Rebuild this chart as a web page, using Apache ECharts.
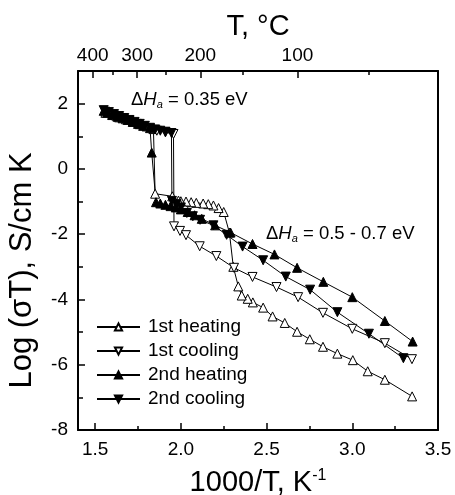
<!DOCTYPE html>
<html>
<head>
<meta charset="utf-8">
<script src="https://cdn.jsdelivr.net/npm/echarts@6/dist/echarts.min.js"></script>
<style>
  html, body { margin: 0; padding: 0; background: #fff; }
  #chart { width: 455px; height: 495px; }
</style>
</head>
<body>
<div id="chart"></div>
<script>
const heating1 = [
  [3.349, -6.97], [3.19, -6.46], [3.09, -6.2], [3.003, -5.86], [2.913, -5.66],
  [2.829, -5.45], [2.752, -5.22], [2.678, -4.99], [2.606, -4.72], [2.535, -4.52],
  [2.48, -4.25], [2.42, -4.09], [2.39, -3.98], [2.355, -3.88], [2.335, -3.6],
  [2.306, -3.0], [2.283, -1.95], [2.25, -1.32], [2.22, -1.2], [2.19, -1.12],
  [2.16, -1.08], [2.13, -1.06], [2.09, -1.04], [2.06, -1.02], [2.03, -1.0],
  [2.0, -0.99], [1.986, -0.97], [1.95, -0.84], [1.85, -0.76], [1.84, 1.22],
  [1.8, 1.3], [1.76, 1.37], [1.72, 1.45], [1.68, 1.52], [1.64, 1.58],
  [1.6, 1.65], [1.56, 1.72]
]
const cooling1 = [
  [1.56, 1.75], [1.6, 1.62], [1.66, 1.55], [1.7, 1.47], [1.744, 1.38],
  [1.78, 1.3], [1.821, 1.23], [1.86, 1.17], [1.91, 1.12], [1.957, 1.07],
  [1.96, -1.76], [1.995, -1.9], [2.03, -2.03], [2.11, -2.37], [2.207, -2.67],
  [2.31, -3.03], [2.418, -3.31], [2.558, -3.62], [2.684, -3.93], [2.829, -4.41],
  [3.0, -4.9], [3.19, -5.34], [3.348, -5.83]
]
const heating2 = [
  [3.352, -5.29], [3.19, -4.66], [3.0, -3.93], [2.831, -3.46], [2.678, -3.03],
  [2.546, -2.62], [2.418, -2.3], [2.29, -1.95], [2.2, -1.73], [2.122, -1.53],
  [2.08, -1.42], [2.04, -1.32], [2.0, -1.24], [1.97, -1.18], [1.94, -1.14],
  [1.91, -1.1], [1.88, -1.06], [1.855, -1.02], [1.83, 0.5], [1.82, 1.25],
  [1.78, 1.32], [1.75, 1.38], [1.72, 1.44], [1.69, 1.5], [1.66, 1.55],
  [1.63, 1.6], [1.6, 1.66], [1.57, 1.72], [1.55, 1.78]
]
const cooling2 = [
  [1.55, 1.8], [1.58, 1.74], [1.61, 1.68], [1.64, 1.62], [1.67, 1.56],
  [1.7, 1.5], [1.73, 1.44], [1.76, 1.38], [1.79, 1.32], [1.82, 1.26],
  [1.85, 1.21], [1.88, 1.17], [1.91, 1.14], [1.945, 1.1], [1.948, -0.98],
  [1.975, -1.08], [2.0, -1.18], [2.035, -1.35], [2.07, -1.45], [2.112, -1.56],
  [2.19, -1.73], [2.267, -2.02], [2.36, -2.38], [2.48, -2.8], [2.612, -3.3],
  [2.754, -3.7], [2.913, -4.39], [3.097, -5.05], [3.298, -5.8]
]

const seriesNames = ['1st heating', '1st cooling', '2nd heating', '2nd cooling']

// tick values
const xMajor = [1.5, 2.0, 2.5, 3.0, 3.5]
const xMinor = [1.75, 2.25, 2.75, 3.25]
const yMajor = [-8, -6, -4, -2, 0, 2]
const yMinor = [-7, -5, -3, -1, 1]
const tempMajor = [400, 300, 200, 100]   // deg C, top axis
const tempMinor = [350, 250, 150, 50]

const toInvT = (c) => 1000 / (c + 273.15)
const FONT = 'Liberation Sans, Arial, sans-serif'

const chart = echarts.init(document.getElementById('chart'))

const tickAxis = (extra) => Object.assign({
  type: 'value',
  min: 1.4,
  max: 3.5,
  splitLine: { show: false },
  axisLine: { show: false, onZero: false }
}, extra)

const yTickAxis = (extra) => Object.assign({
  type: 'value',
  min: -8,
  max: 3,
  splitLine: { show: false },
  axisLine: { show: false, onZero: false }
}, extra)

const frameLine = { show: true, onZero: false, lineStyle: { color: '#000', width: 2 } }
const tickLine = { color: '#000', width: 1.5 }

const baseSeries = (name, data, filled, down) => ({
  name: name,
  type: 'line',
  data: data,
  symbol: 'triangle',
  symbolSize: 9,
  symbolRotate: down ? 180 : 0,
  showAllSymbol: true,
  lineStyle: { color: '#000', width: 1 },
  itemStyle: { color: filled ? '#000' : '#fff', borderColor: '#000', borderWidth: 1 },
  emphasis: { disabled: true },
  animation: false
})

const annotRich = {
  n: { fontSize: 18.5, fontFamily: FONT, fill: '#000' },
  i: { fontSize: 18.5, fontFamily: FONT, fontStyle: 'italic', fill: '#000' },
  s: { fontSize: 11, fontFamily: FONT, fontStyle: 'italic', fill: '#000', verticalAlign: 'bottom', padding: [10, 0, 0, 0] }
}

const option = {
  animation: false,
  textStyle: { fontFamily: FONT, color: '#000' },
  grid: { left: 78, right: 17, top: 71, bottom: 65, containLabel: false, outerBoundsMode: 'none' },
  xAxis: [
    tickAxis({
      position: 'bottom',
      axisLine: frameLine,
      axisTick: { show: true, inside: true, length: 7, customValues: xMajor, lineStyle: tickLine },
      axisLabel: {
        customValues: xMajor, margin: 10, fontSize: 19, color: '#000', fontFamily: FONT,
        formatter: (v) => v.toFixed(1)
      },
      name: '1000/T, K{sup|-1}',
      nameLocation: 'middle',
      nameGap: 38,
      nameTextStyle: {
        fontSize: 29, color: '#000', fontFamily: FONT,
        rich: { sup: { fontSize: 16, verticalAlign: 'top', lineHeight: 12, fontFamily: FONT } }
      }
    }),
    tickAxis({
      position: 'bottom',
      axisTick: { show: true, inside: true, length: 4, customValues: xMinor, lineStyle: tickLine },
      axisLabel: { show: false }
    }),
    tickAxis({
      position: 'top',
      axisLine: frameLine,
      axisTick: { show: true, inside: true, length: 7, customValues: tempMajor.map(toInvT), lineStyle: tickLine },
      axisLabel: {
        customValues: tempMajor.map(toInvT), margin: 6, fontSize: 19, color: '#000', fontFamily: FONT,
        formatter: (v) => String(Math.round(1000 / v - 273.15))
      },
      name: 'T, °C',
      nameLocation: 'middle',
      nameGap: 28,
      nameTextStyle: { fontSize: 29, color: '#000', fontFamily: FONT }
    }),
    tickAxis({
      position: 'top',
      axisTick: { show: true, inside: true, length: 4, customValues: tempMinor.map(toInvT), lineStyle: tickLine },
      axisLabel: { show: false }
    })
  ],
  yAxis: [
    yTickAxis({
      position: 'left',
      axisLine: frameLine,
      axisTick: { show: true, inside: true, length: 7, customValues: yMajor, lineStyle: tickLine },
      axisLabel: { customValues: yMajor, margin: 10, fontSize: 19, color: '#000', fontFamily: FONT },
      name: 'Log (σT), S/cm K',
      nameLocation: 'middle',
      nameGap: 40,
      nameTextStyle: { fontSize: 31, color: '#000', fontFamily: FONT, padding: [0, 40, 0, 0] }
    }),
    yTickAxis({
      position: 'left',
      axisTick: { show: true, inside: true, length: 5, customValues: yMinor, lineStyle: tickLine },
      axisLabel: { show: false }
    }),
    yTickAxis({
      position: 'right',
      axisLine: frameLine,
      axisTick: { show: false },
      axisLabel: { show: false }
    })
  ],
  legend: {
    orient: 'vertical',
    left: 96,
    top: 317,
    padding: 0,
    itemWidth: 43,
    itemHeight: 9,
    itemGap: 4,
    data: seriesNames,
    textStyle: { fontSize: 19, lineHeight: 20, color: '#000', fontFamily: FONT, padding: [0, 0, 0, 3] }
  },
  graphic: [
    {
      type: 'text', left: 131, top: 90, silent: true,
      style: { text: '{n|Δ}{i|H}{s|a}{n| = 0.35 eV}', rich: annotRich }
    },
    {
      type: 'text', left: 266, top: 224, silent: true,
      style: { text: '{n|Δ}{i|H}{s|a}{n| = 0.5 - 0.7 eV}', rich: annotRich }
    }
  ],
  series: [
    baseSeries(seriesNames[0], heating1, false, false),
    baseSeries(seriesNames[1], cooling1, false, true),
    baseSeries(seriesNames[2], heating2, true, false),
    baseSeries(seriesNames[3], cooling2, true, true)
  ]
}

chart.setOption(option)
</script>
</body>
</html>
